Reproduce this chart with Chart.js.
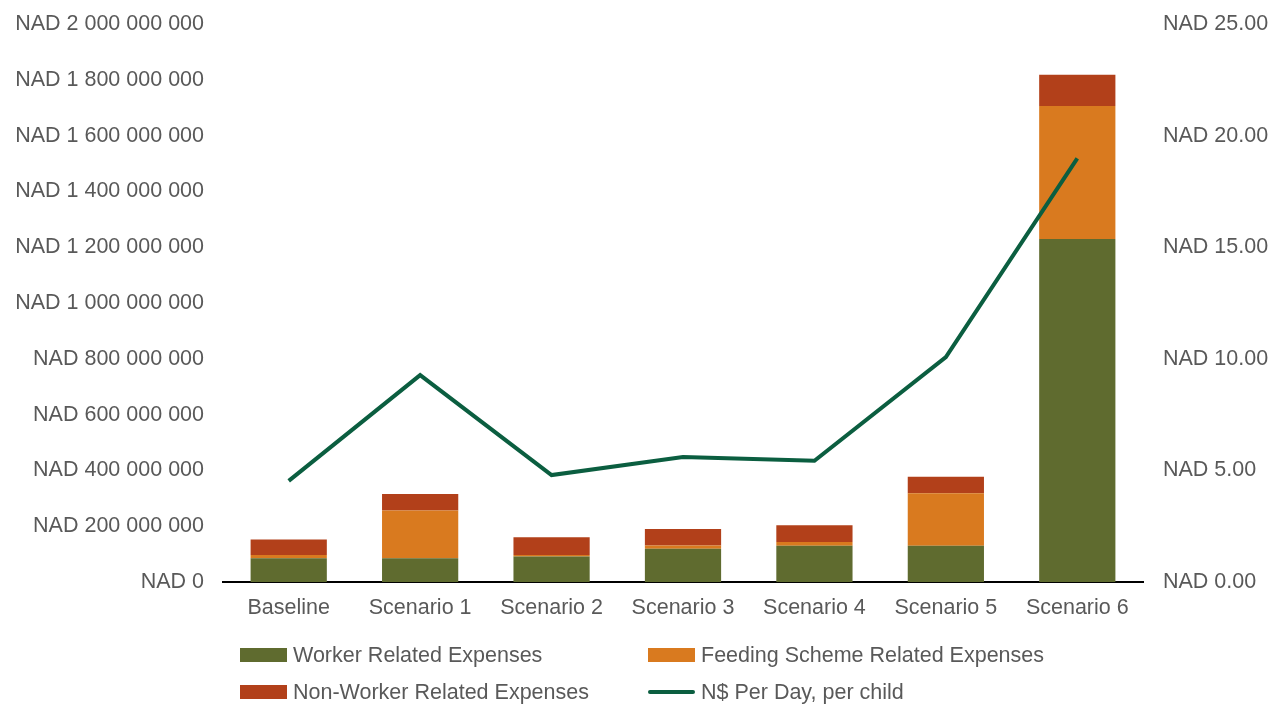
<!DOCTYPE html>
<html>
<head>
<meta charset="utf-8">
<script src="https://cdn.jsdelivr.net/npm/chart.js@4"></script>
<style>
  body { margin: 0; background: #fff; }
  #wrap { position: relative; width: 1270px; height: 704px; }
  #legend { position: absolute; left: 240px; top: 643px; width: 900px;
    display: grid; grid-template-columns: 408px 420px; row-gap: 13px;
    font-family: "Liberation Sans", Arial, sans-serif; font-size: 21.5px; color: #595959; }
  .item { display: flex; align-items: center; height: 24px; }
  .box { width: 47px; height: 14px; margin-right: 6px; }
  .ln { width: 47px; height: 4px; border-radius: 2px; margin-right: 6px; }
</style>
</head>
<body>
<div id="wrap">
  <canvas id="myChart" width="1270" height="704"></canvas>
  <div id="legend"></div>
</div>
<script>
const categories = ['Baseline', 'Scenario 1', 'Scenario 2', 'Scenario 3', 'Scenario 4', 'Scenario 5', 'Scenario 6'];
const workerExpenses = [85e6, 85e6, 91e6, 119e6, 130e6, 130e6, 1229e6];
const feedingExpenses = [12e6, 171e6, 6e6, 12e6, 13e6, 188e6, 477e6];
const nonWorkerExpenses = [55e6, 59e6, 63e6, 59e6, 60e6, 59e6, 112e6];
const perDayPerChild = [4.53, 9.27, 4.79, 5.6, 5.43, 10.08, 18.98];

const colWorker = '#5f6b2f';
const colFeeding = '#d97a1f';
const colNonWorker = '#b2401a';
const colLine = '#0b5e40';
const textCol = '#595959';
const font = { family: '"Liberation Sans", Arial, sans-serif', size: 21.5 };

function fmtBig(v) {
    return 'NAD ' + Math.round(v).toString().replace(/\B(?=(\d{3})+(?!\d))/g, ' ');
}

const ctx = document.getElementById('myChart').getContext('2d');
window.chartInstance = new Chart(ctx, {
    type: 'bar',
    data: {
        labels: categories,
        datasets: [
            { type: 'line', label: 'N$ Per Day, per child', data: perDayPerChild, yAxisID: 'y2',
              borderColor: colLine, backgroundColor: colLine, borderWidth: 4, pointRadius: 0, tension: 0, order: 0 },
            { label: 'Worker Related Expenses', data: workerExpenses, backgroundColor: colWorker, stack: 's', yAxisID: 'y', order: 1 },
            { label: 'Feeding Scheme Related Expenses', data: feedingExpenses, backgroundColor: colFeeding, stack: 's', yAxisID: 'y', order: 1 },
            { label: 'Non-Worker Related Expenses', data: nonWorkerExpenses, backgroundColor: colNonWorker, stack: 's', yAxisID: 'y', order: 1 }
        ]
    },
    options: {
        responsive: false,
        animation: false,
        layout: { padding: { top: 24, right: 0, left: 0, bottom: 0 } },
        datasets: { bar: { barPercentage: 0.58, categoryPercentage: 1 } },
        plugins: { legend: { display: false }, tooltip: { enabled: false } },
        scales: {
            x: {
                stacked: true,
                grid: { display: false, drawTicks: false },
                border: { display: true, color: '#000', width: 2 },
                ticks: { color: textCol, font: font, padding: 13 },
                afterFit: s => { s.height = 122; }
            },
            y: {
                stacked: true, position: 'left', min: 0, max: 2e9,
                grid: { display: false, drawTicks: false },
                border: { display: false },
                ticks: { stepSize: 2e8, color: textCol, font: font, padding: 19, callback: v => fmtBig(v) },
                afterFit: s => { s.width = 223; s.paddingTop = 0; s.paddingBottom = 0; }
            },
            y2: {
                position: 'right', min: 0, max: 25,
                grid: { display: false, drawTicks: false },
                border: { display: false },
                ticks: { stepSize: 5, color: textCol, font: font, padding: 20, callback: v => 'NAD ' + v.toFixed(2) },
                afterFit: s => { s.width = 127; s.paddingTop = 0; s.paddingBottom = 0; }
            }
        }
    }
});

const legendItems = [
    { label: 'Worker Related Expenses', color: colWorker, kind: 'box' },
    { label: 'Feeding Scheme Related Expenses', color: colFeeding, kind: 'box' },
    { label: 'Non-Worker Related Expenses', color: colNonWorker, kind: 'box' },
    { label: 'N$ Per Day, per child', color: colLine, kind: 'ln' }
];
document.getElementById('legend').innerHTML = legendItems.map(it =>
    `<div class="item"><span class="${it.kind}" style="background:${it.color}"></span>${it.label}</div>`).join('');
</script>
</body>
</html>
